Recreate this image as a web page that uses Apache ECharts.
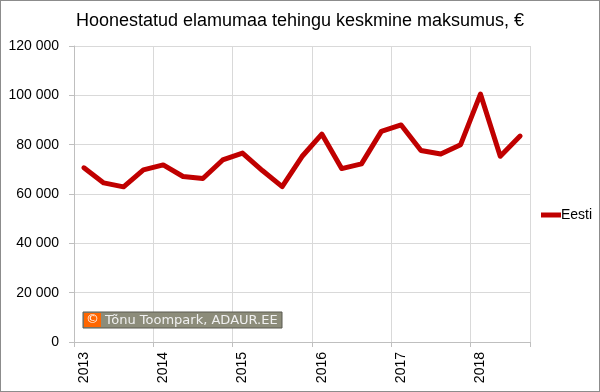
<!DOCTYPE html>
<html><head><meta charset="utf-8">
<script src="https://cdn.jsdelivr.net/npm/echarts@6/dist/echarts.min.js"></script>
<style>
html,body{margin:0;padding:0;background:#fff;}
#c{width:598px;height:390px;border:1px solid #8c8c8c;}
</style></head>
<body><div id="c"></div>
<script>
const categories = ['2013','2013 II','2013 III','2013 IV','2014','2014 II','2014 III','2014 IV','2015','2015 II','2015 III','2015 IV','2016','2016 II','2016 III','2016 IV','2017','2017 II','2017 III','2017 IV','2018','2018 II','2018 III'];
const eesti = [70600,64500,62900,69800,71800,67100,66300,73800,76600,69500,63000,75200,84300,70300,72200,85400,88000,77600,76200,80000,100500,75300,83500];
const yTicks = [0,20000,40000,60000,80000,100000,120000];
const seriesName = 'Eesti';
const titleText = 'Hoonestatud elamumaa tehingu keskmine maksumus, €';
const watermark = 'Tõnu Toompark, ADAUR.EE';

const chart = echarts.init(document.getElementById('c'), null, {renderer:'canvas'});
const fmt = v => String(v).replace(/\B(?=(\d{3})+(?!\d))/g, ' ');
const F = '"Liberation Sans", Arial, sans-serif';
chart.setOption({
  animation:false,
  title:{text:titleText,left:'center',top:6,textStyle:{fontFamily:F,fontSize:18,fontWeight:'normal',color:'#000'}},
  legend:{data:[{name:seriesName,icon:'path://M0,0 L20,0 L20,5 L0,5 Z'}],orient:'vertical',left:535,top:202,itemWidth:20,itemHeight:5,itemGap:4,
    textStyle:{fontFamily:F,fontSize:14,color:'#000',padding:[0,0,0,-5]}},
  grid:{left:73,right:69,top:45,bottom:49,containLabel:false},
  xAxis:{type:'category',data:categories,boundaryGap:true,
    axisLine:{lineStyle:{color:'#bfbfbf'}},
    axisTick:{show:true,interval:3,length:5,lineStyle:{color:'#bfbfbf'}},
    splitLine:{show:true,interval:3,lineStyle:{color:'#d9d9d9'}},
    axisLabel:{interval:3,rotate:90,margin:10,fontFamily:F,fontSize:14,color:'#000',formatter:v=>v.slice(0,4)}},
  yAxis:{type:'value',min:yTicks[0],max:yTicks[yTicks.length-1],interval:20000,
    axisLine:{show:true,lineStyle:{color:'#bfbfbf'}},
    axisTick:{show:true,length:5,lineStyle:{color:'#bfbfbf'}},
    splitLine:{lineStyle:{color:'#d9d9d9'}},
    axisLabel:{fontFamily:F,fontSize:14,color:'#000',margin:15,formatter:fmt}},
  series:[{name:seriesName,type:'line',data:eesti,symbol:'none',
    lineStyle:{color:'#c00000',width:5,join:'round',cap:'round'},itemStyle:{color:'#c00000'}}],
  graphic:[
    {type:'rect',shape:{x:82,y:311,width:199,height:16},style:{fill:'#8c8c7a',stroke:'#5a5a50',lineWidth:1},z:100},
    {type:'rect',shape:{x:83,y:312,width:17,height:14},style:{fill:'#ff6600'},z:101},
    {type:'text',x:91.5,y:319,style:{text:'©',fill:'#fff',font:'13px "DejaVu Sans"',textAlign:'center',textVerticalAlign:'middle'},z:102},
    {type:'text',x:104,y:319.5,style:{text:watermark,fill:'#f0f0f0',font:'13px "DejaVu Sans"',textVerticalAlign:'middle'},z:102}
  ]
});
</script></body></html>
